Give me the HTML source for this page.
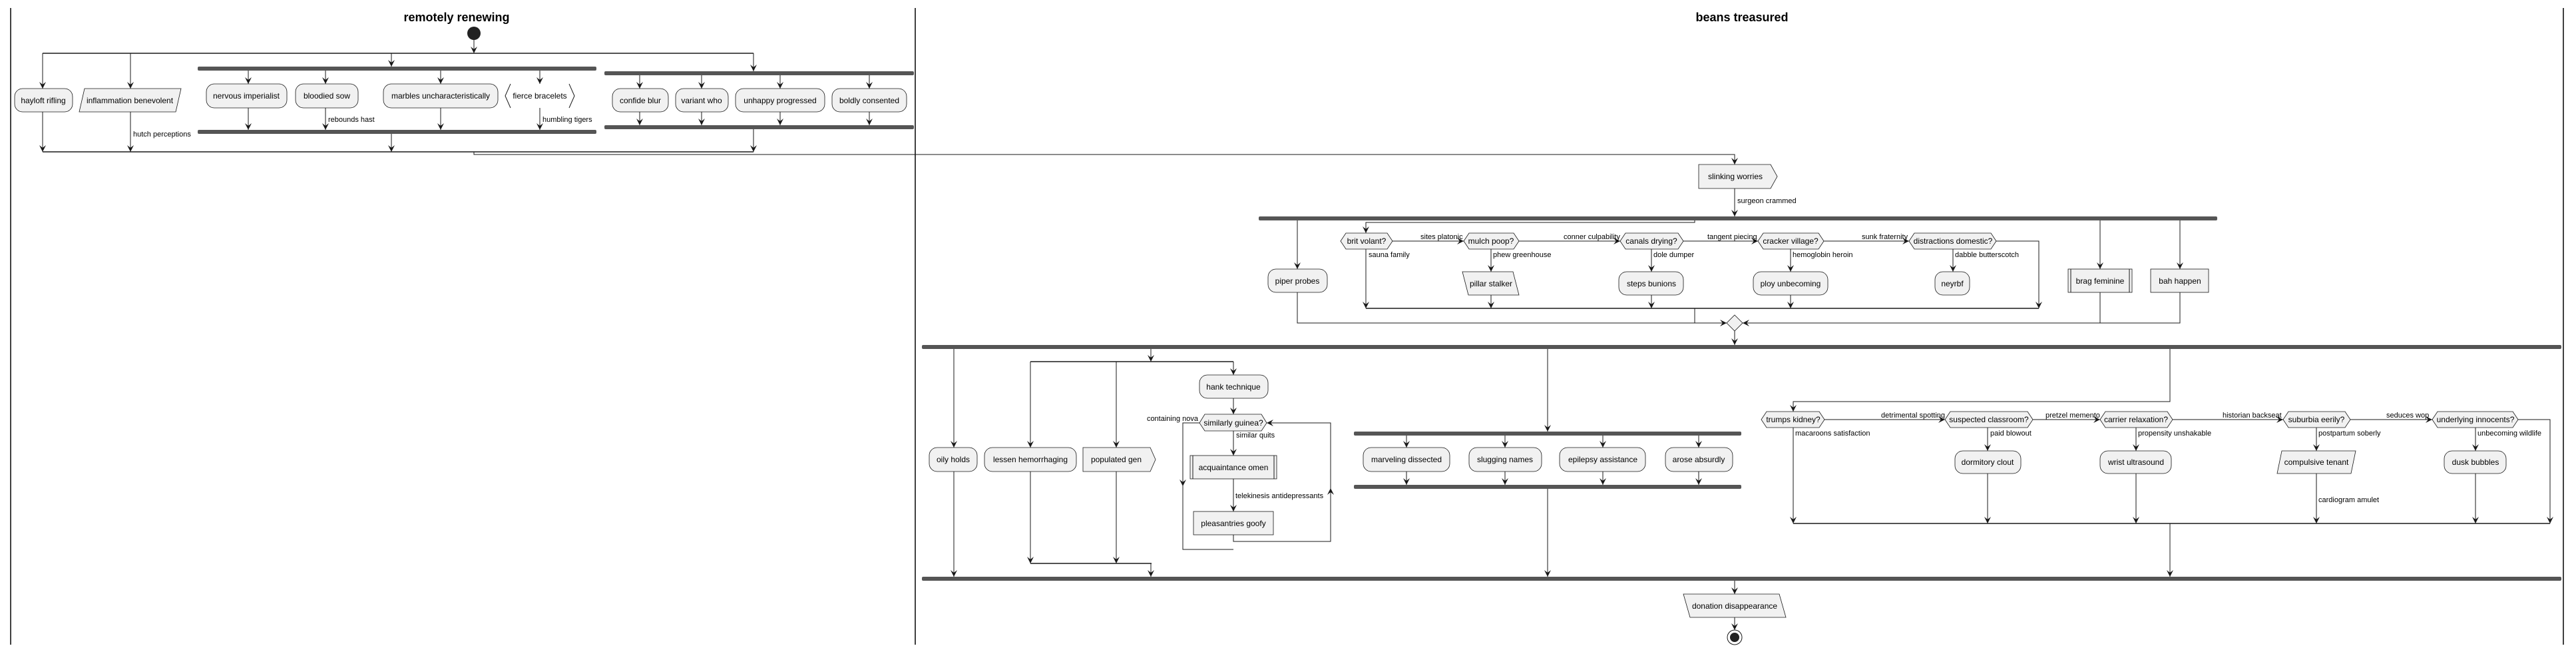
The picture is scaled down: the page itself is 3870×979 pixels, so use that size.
<!DOCTYPE html>
<html><head><meta charset="utf-8"><style>
html,body{margin:0;padding:0;background:#fff;}
svg{display:block;}
text{font-family:"Liberation Sans",sans-serif;fill:#000;}
.n{font-size:12px;text-anchor:middle;}
.l{font-size:11px;}
.t{font-size:18px;font-weight:bold;text-anchor:middle;}
.s{fill:#F1F1F1;stroke:#181818;stroke-width:0.8;}
.e{stroke:#181818;stroke-width:1;fill:none;}
.b{fill:#555;}
</style></head><body>
<svg width="3870" height="979" viewBox="0 0 3870 979" xmlns="http://www.w3.org/2000/svg">
<defs><marker id="a" viewBox="0 0 10 10" refX="10" refY="5" markerWidth="10" markerHeight="10" markerUnits="userSpaceOnUse" orient="auto"><path d="M0,0 L10,5 L0,10 L4,5 Z" fill="#181818"/></marker></defs>

<!-- swimlanes -->
<line x1="16" y1="12" x2="16" y2="968" stroke="#000" stroke-width="1.5"/>
<line x1="1375" y1="12" x2="1375" y2="968" stroke="#000" stroke-width="1.5"/>
<line x1="3851" y1="12" x2="3851" y2="968" stroke="#000" stroke-width="1.5"/>
<text class="t" x="686" y="32">remotely renewing</text>
<text class="t" x="2617" y="32">beans treasured</text>

<!-- lane 1 -->
<circle cx="712" cy="50" r="10" fill="#222"/>
<line class="e" x1="712" y1="60" x2="712" y2="80" marker-end="url(#a)"/>
<line x1="64" y1="80" x2="1132" y2="80" stroke="#181818" stroke-width="1.5"/>
<g class="e" marker-end="url(#a)">
<line x1="64" y1="80" x2="64" y2="133"/><line x1="196" y1="80" x2="196" y2="133"/>
<line x1="588" y1="80" x2="588" y2="100"/><line x1="1132" y1="80" x2="1132" y2="107"/>
<line x1="373" y1="106" x2="373" y2="126"/><line x1="489" y1="106" x2="489" y2="126"/>
<line x1="662" y1="106" x2="662" y2="126"/><line x1="811" y1="106" x2="811" y2="126"/>
<line x1="961" y1="113" x2="961" y2="133"/><line x1="1054" y1="113" x2="1054" y2="133"/>
<line x1="1172" y1="113" x2="1172" y2="133"/><line x1="1306" y1="113" x2="1306" y2="133"/>
<line x1="64" y1="168" x2="64" y2="228"/><line x1="196" y1="168" x2="196" y2="228"/>
<line x1="373" y1="162" x2="373" y2="195"/><line x1="489" y1="162" x2="489" y2="195"/>
<line x1="662" y1="162" x2="662" y2="195"/><line x1="811" y1="162" x2="811" y2="195"/>
<line x1="588" y1="201" x2="588" y2="228"/>
<line x1="961" y1="168" x2="961" y2="188"/><line x1="1054" y1="168" x2="1054" y2="188"/>
<line x1="1172" y1="168" x2="1172" y2="188"/><line x1="1306" y1="168" x2="1306" y2="188"/>
<line x1="1132" y1="194" x2="1132" y2="228"/>
<polyline points="712,228 712,232 2606,232 2606,247"/>
</g>
<rect class="b" x="297" y="100" width="599" height="6" rx="2"/>
<rect class="b" x="908" y="107" width="465" height="6" rx="2"/>
<rect class="b" x="297" y="195" width="599" height="6" rx="2"/>
<rect class="b" x="908" y="188" width="465" height="6" rx="2"/>
<line x1="64" y1="228" x2="1132" y2="228" stroke="#181818" stroke-width="1.5"/>

<rect class="s" x="22" y="133" width="87" height="35" rx="12"/><text class="n" x="65" y="155">hayloft rifling</text>
<polygon class="s" points="127,133 272,133 264,168 119,168"/><text class="n" x="195" y="155">inflammation benevolent</text>
<rect class="s" x="310" y="126" width="121" height="36" rx="12"/><text class="n" x="370" y="148">nervous imperialist</text>
<rect class="s" x="444" y="126" width="94" height="36" rx="12"/><text class="n" x="491" y="148">bloodied sow</text>
<rect class="s" x="576" y="126" width="172" height="36" rx="12"/><text class="n" x="662" y="148">marbles uncharacteristically</text>
<polyline class="e" points="767,126 759,144 767,162"/><polyline class="e" points="855,126 863,144 855,162"/><text class="n" x="811" y="148">fierce bracelets</text>
<rect class="s" x="920" y="133" width="84" height="35" rx="12"/><text class="n" x="962" y="155">confide blur</text>
<rect class="s" x="1015" y="133" width="79" height="35" rx="12"/><text class="n" x="1054" y="155">variant who</text>
<rect class="s" x="1105" y="133" width="134" height="35" rx="12"/><text class="n" x="1172" y="155">unhappy progressed</text>
<rect class="s" x="1250" y="133" width="112" height="35" rx="12"/><text class="n" x="1306" y="155">boldly consented</text>
<text class="l" x="200" y="205">hutch perceptions</text>
<text class="l" x="493" y="183">rebounds hast</text>
<text class="l" x="815" y="183">humbling tigers</text>

<!-- lane 2 top -->
<polygon class="s" points="2552,247 2660,247 2670,265 2660,283 2552,283"/><text class="n" x="2607" y="269">slinking worries</text>
<line class="e" x1="2606" y1="283" x2="2606" y2="325" marker-end="url(#a)"/>
<text class="l" x="2610" y="305">surgeon crammed</text>
<rect class="b" x="1891" y="325" width="1440" height="6" rx="2"/>
<g class="e" marker-end="url(#a)">
<line x1="1949" y1="331" x2="1949" y2="404"/>
<polyline points="2546,331 2546,334 2052,334 2052,350"/>
<line x1="2092" y1="362" x2="2199" y2="362"/><line x1="2282" y1="362" x2="2434" y2="362"/>
<line x1="2529" y1="362" x2="2641" y2="362"/><line x1="2740" y1="362" x2="2868" y2="362"/>
<polyline points="2999,362 3063,362 3063,463"/>
<line x1="2052" y1="374" x2="2052" y2="463"/>
<line x1="2240" y1="374" x2="2240" y2="408"/><line x1="2240" y1="443" x2="2240" y2="463"/>
<line x1="2481" y1="374" x2="2481" y2="408"/><line x1="2481" y1="443" x2="2481" y2="463"/>
<line x1="2690" y1="374" x2="2690" y2="408"/><line x1="2690" y1="443" x2="2690" y2="463"/>
<line x1="2934" y1="374" x2="2934" y2="408"/>
<polyline points="1949,439 1949,485 2594,485"/>
<polyline points="3275,439 3275,485 2618,485"/>
<line x1="3155" y1="331" x2="3155" y2="404"/><line x1="3275" y1="331" x2="3275" y2="404"/>
<line x1="2606" y1="497" x2="2606" y2="518"/>
</g>
<line class="e" x1="3155" y1="439" x2="3155" y2="485"/>
<line class="e" x1="2546" y1="463" x2="2546" y2="485"/>
<line x1="2052" y1="463" x2="3063" y2="463" stroke="#181818" stroke-width="1.5"/>
<polygon class="s" points="2606,473 2618,485 2606,497 2594,485"/>
<rect class="s" x="1905" y="404" width="89" height="35" rx="12"/><text class="n" x="1949" y="426">piper probes</text>
<polygon class="s" points="2022,350 2084,350 2092,362 2084,374 2022,374 2014,362"/><text class="n" x="2053" y="366">brit volant?</text>
<polygon class="s" points="2207,350 2274,350 2282,362 2274,374 2207,374 2199,362"/><text class="n" x="2240" y="366">mulch poop?</text>
<polygon class="s" points="2442,350 2521,350 2529,362 2521,374 2442,374 2434,362"/><text class="n" x="2481" y="366">canals drying?</text>
<polygon class="s" points="2649,350 2732,350 2740,362 2732,374 2649,374 2641,362"/><text class="n" x="2690" y="366">cracker village?</text>
<polygon class="s" points="2876,350 2991,350 2999,362 2991,374 2876,374 2868,362"/><text class="n" x="2934" y="366">distractions domestic?</text>
<text class="l" x="2134" y="359">sites platonic</text>
<text class="l" x="2349" y="359">conner culpability</text>
<text class="l" x="2565" y="359">tangent piecing</text>
<text class="l" x="2797" y="359">sunk fraternity</text>
<text class="l" x="2056" y="386">sauna family</text>
<text class="l" x="2243" y="386">phew greenhouse</text>
<text class="l" x="2484" y="386">dole dumper</text>
<text class="l" x="2693" y="386">hemoglobin heroin</text>
<text class="l" x="2937" y="386">dabble butterscotch</text>
<polygon class="s" points="2197,408 2273,408 2282,443 2206,443"/><text class="n" x="2240" y="430">pillar stalker</text>
<rect class="s" x="2432" y="408" width="97" height="35" rx="12"/><text class="n" x="2481" y="430">steps bunions</text>
<rect class="s" x="2634" y="408" width="112" height="35" rx="12"/><text class="n" x="2690" y="430">ploy unbecoming</text>
<rect class="s" x="2907" y="408" width="52" height="35" rx="12"/><text class="n" x="2933" y="430">neyrbf</text>
<rect class="s" x="3107" y="404" width="96" height="35"/><line class="e" x1="3111" y1="404" x2="3111" y2="439"/><line class="e" x1="3199" y1="404" x2="3199" y2="439"/><text class="n" x="3155" y="426">brag feminine</text>
<rect class="s" x="3231" y="404" width="87" height="35"/><text class="n" x="3275" y="426">bah happen</text>

<!-- lane 2 bottom -->
<rect class="b" x="1385" y="518" width="2463" height="6" rx="2"/>
<rect class="b" x="1385" y="866" width="2463" height="6" rx="2"/>
<line x1="1548" y1="543" x2="1853" y2="543" stroke="#181818" stroke-width="1.5"/>
<line x1="1548" y1="846" x2="1730" y2="846" stroke="#181818" stroke-width="1.5"/>
<rect class="b" x="2034" y="648" width="582" height="6" rx="2"/>
<rect class="b" x="2034" y="728" width="582" height="6" rx="2"/>
<g class="e" marker-end="url(#a)">
<line x1="1433" y1="524" x2="1433" y2="672"/><line x1="1433" y1="708" x2="1433" y2="866"/>
<line x1="1729" y1="524" x2="1729" y2="543"/>
<line x1="1548" y1="543" x2="1548" y2="672"/><line x1="1548" y1="708" x2="1548" y2="846"/>
<line x1="1677" y1="543" x2="1677" y2="672"/><line x1="1677" y1="708" x2="1677" y2="846"/>
<line x1="1853" y1="543" x2="1853" y2="563"/><line x1="1853" y1="598" x2="1853" y2="622"/>
<polyline points="1802,635 1777,635 1777,730"/>
<line x1="1853" y1="647" x2="1853" y2="684"/><line x1="1853" y1="719" x2="1853" y2="768"/>
<polyline points="1853,803 1853,813 1999,813 1999,733"/>
<polyline points="1999,733 1999,635 1903,635"/>
<line x1="1729" y1="846" x2="1729" y2="866"/>
<line x1="2325" y1="524" x2="2325" y2="648"/>
<line x1="2113" y1="654" x2="2113" y2="672"/><line x1="2261" y1="654" x2="2261" y2="672"/>
<line x1="2408" y1="654" x2="2408" y2="672"/><line x1="2552" y1="654" x2="2552" y2="672"/>
<line x1="2113" y1="708" x2="2113" y2="728"/><line x1="2261" y1="708" x2="2261" y2="728"/>
<line x1="2408" y1="708" x2="2408" y2="728"/><line x1="2552" y1="708" x2="2552" y2="728"/>
<line x1="2325" y1="734" x2="2325" y2="866"/>
<polyline points="3260,524 3260,603 2694,603 2694,618"/>
<line x1="2741" y1="630" x2="2922" y2="630"/><line x1="3054" y1="630" x2="3155" y2="630"/>
<line x1="3264" y1="630" x2="3430" y2="630"/><line x1="3531" y1="630" x2="3654" y2="630"/>
<polyline points="3783,630 3831,630 3831,786"/>
<line x1="2694" y1="642" x2="2694" y2="786"/>
<line x1="2986" y1="642" x2="2986" y2="677"/><line x1="2986" y1="711" x2="2986" y2="786"/>
<line x1="3209" y1="642" x2="3209" y2="677"/><line x1="3209" y1="711" x2="3209" y2="786"/>
<line x1="3480" y1="642" x2="3480" y2="677"/><line x1="3480" y1="711" x2="3480" y2="786"/>
<line x1="3719" y1="642" x2="3719" y2="677"/><line x1="3719" y1="711" x2="3719" y2="786"/>
<line x1="3260" y1="786" x2="3260" y2="866"/>
<line x1="2606" y1="872" x2="2606" y2="892"/><line x1="2606" y1="927" x2="2606" y2="946"/>
</g>
<polyline class="e" points="1777,730 1777,825 1853,825"/>
<line x1="2694" y1="786" x2="3831" y2="786" stroke="#181818" stroke-width="1.5"/>

<rect class="s" x="1396" y="672" width="72" height="36" rx="12"/><text class="n" x="1432" y="694">oily holds</text>
<rect class="s" x="1479" y="672" width="138" height="36" rx="12"/><text class="n" x="1548" y="694">lessen hemorrhaging</text>
<polygon class="s" points="1627,672 1728,672 1736,690 1728,708 1627,708"/><text class="n" x="1677" y="694">populated gen</text>
<rect class="s" x="1802" y="563" width="103" height="35" rx="12"/><text class="n" x="1853" y="585">hank technique</text>
<polygon class="s" points="1810,622 1895,622 1903,635 1895,647 1810,647 1802,635"/><text class="n" x="1853" y="639">similarly guinea?</text>
<text class="l" x="1800" y="632" text-anchor="end">containing nova</text>
<text class="l" x="1857" y="657">similar quits</text>
<rect class="s" x="1788" y="684" width="130" height="35"/><line class="e" x1="1792" y1="684" x2="1792" y2="719"/><line class="e" x1="1914" y1="684" x2="1914" y2="719"/><text class="n" x="1853" y="706">acquaintance omen</text>
<text class="l" x="1856" y="748">telekinesis antidepressants</text>
<rect class="s" x="1793" y="768" width="120" height="35"/><text class="n" x="1853" y="790">pleasantries goofy</text>
<rect class="s" x="2048" y="672" width="130" height="36" rx="12"/><text class="n" x="2113" y="694">marveling dissected</text>
<rect class="s" x="2207" y="672" width="109" height="36" rx="12"/><text class="n" x="2261" y="694">slugging names</text>
<rect class="s" x="2343" y="672" width="129" height="36" rx="12"/><text class="n" x="2408" y="694">epilepsy assistance</text>
<rect class="s" x="2502" y="672" width="101" height="36" rx="12"/><text class="n" x="2552" y="694">arose absurdly</text>

<polygon class="s" points="2654,618 2733,618 2741,630 2733,642 2654,642 2646,630"/><text class="n" x="2694" y="634">trumps kidney?</text>
<polygon class="s" points="2930,618 3046,618 3054,630 3046,642 2930,642 2922,630"/><text class="n" x="2988" y="634">suspected classroom?</text>
<polygon class="s" points="3163,618 3256,618 3264,630 3256,642 3163,642 3155,630"/><text class="n" x="3209" y="634">carrier relaxation?</text>
<polygon class="s" points="3438,618 3523,618 3531,630 3523,642 3438,642 3430,630"/><text class="n" x="3480" y="634">suburbia eerily?</text>
<polygon class="s" points="3662,618 3775,618 3783,630 3775,642 3662,642 3654,630"/><text class="n" x="3719" y="634">underlying innocents?</text>
<text class="l" x="2826" y="627">detrimental spotting</text>
<text class="l" x="3073" y="627">pretzel memento</text>
<text class="l" x="3339" y="627">historian backseat</text>
<text class="l" x="3585" y="627">seduces wop</text>
<text class="l" x="2697" y="654">macaroons satisfaction</text>
<text class="l" x="2990" y="654">paid blowout</text>
<text class="l" x="3212" y="654">propensity unshakable</text>
<text class="l" x="3483" y="654">postpartum soberly</text>
<text class="l" x="3722" y="654">unbecoming wildlife</text>
<text class="l" x="3483" y="754">cardiogram amulet</text>
<rect class="s" x="2937" y="677" width="99" height="34" rx="12"/><text class="n" x="2986" y="698">dormitory clout</text>
<rect class="s" x="3155" y="677" width="107" height="34" rx="12"/><text class="n" x="3209" y="698">wrist ultrasound</text>
<polygon class="s" points="3428,677 3539,677 3532,711 3421,711"/><text class="n" x="3480" y="698">compulsive tenant</text>
<rect class="s" x="3672" y="677" width="93" height="34" rx="12"/><text class="n" x="3719" y="698">dusk bubbles</text>

<polygon class="s" points="2529,892 2673,892 2683,927 2539,927"/><text class="n" x="2606" y="914">donation disappearance</text>
<circle cx="2606" cy="957" r="11" fill="#fff" stroke="#181818" stroke-width="1"/>
<circle cx="2606" cy="957" r="7" fill="#222"/>
</svg>
</body></html>
